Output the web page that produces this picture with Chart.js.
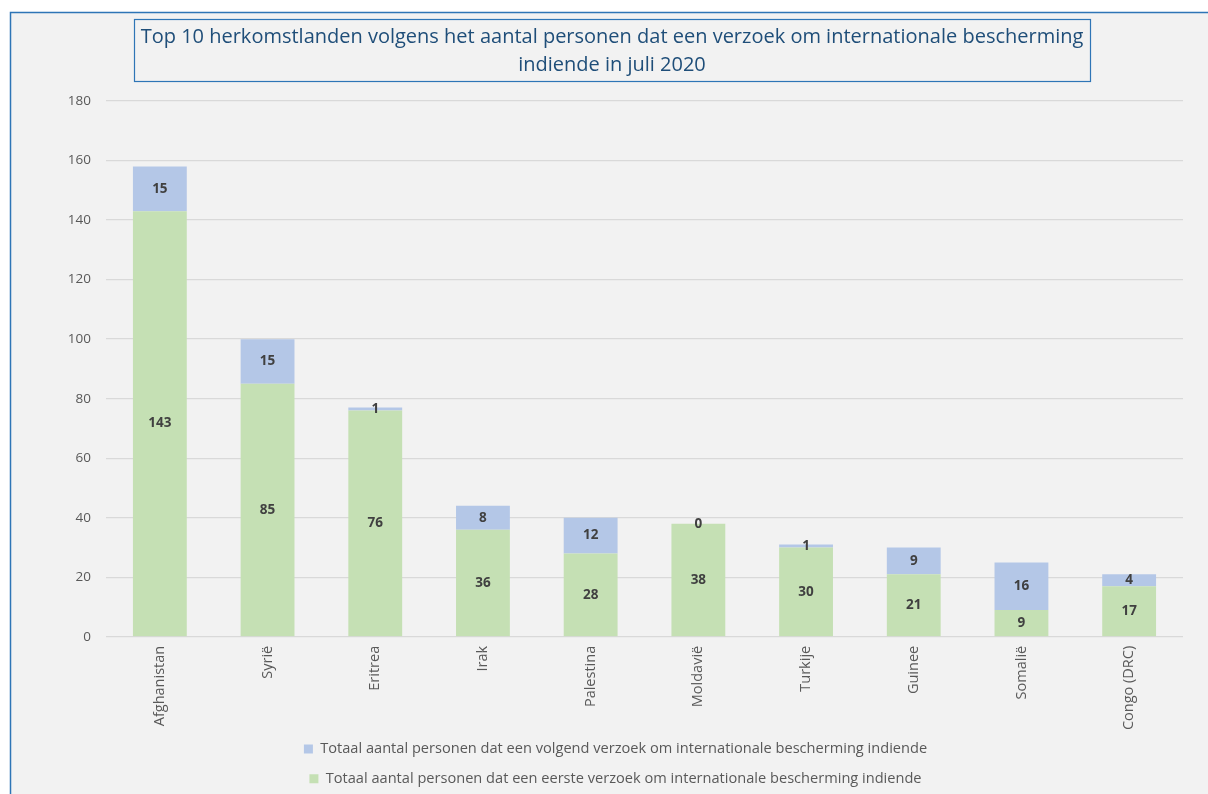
<!DOCTYPE html>
<html>
<head>
<meta charset="utf-8">
<script src="https://cdn.jsdelivr.net/npm/chart.js@4/dist/chart.umd.min.js"></script>
<style>
  html, body { margin: 0; padding: 0; background: #ffffff; }
  #wrap { position: absolute; left: 0; top: 0; width: 1208px; height: 794px; }
</style>
</head>
<body>
<div id="wrap"><canvas id="c" width="1208" height="794"></canvas></div>
<script>
const categories = ["Afghanistan", "Syrië", "Eritrea", "Irak", "Palestina", "Moldavië", "Turkije", "Guinee", "Somalië", "Congo (DRC)"];
const eersteVerzoek = [143, 85, 76, 36, 28, 38, 30, 21, 9, 17];
const volgendVerzoek = [15, 15, 1, 8, 12, 0, 1, 9, 16, 4];
const seriesNames = [
  "Totaal aantal personen dat een eerste verzoek om internationale bescherming indiende",
  "Totaal aantal personen dat een volgend verzoek om internationale bescherming indiende"
];
const titleLines = [
  "Top 10 herkomstlanden volgens het aantal personen dat een verzoek om internationale bescherming",
  "indiende in juli 2020"
];
const yTicks = { min: 0, max: 180, step: 20 };

const FONT = "'Open Sans', 'Noto Sans', sans-serif";

const frame = {
  id: 'frame',
  afterLayout(chart) {
    // let the rotated category labels extend below the fitted box without clipping
    chart.scales.x.bottom += 40;
  },
  beforeDraw(chart) {
    const ctx = chart.ctx;
    ctx.save();
    ctx.fillStyle = '#ffffff';
    ctx.fillRect(0, 0, chart.width, chart.height);
    ctx.fillStyle = '#f2f2f2';
    ctx.fillRect(10, 12, chart.width - 10, chart.height - 12);
    ctx.strokeStyle = '#2e75b6';
    ctx.lineWidth = 1.5;
    ctx.beginPath();
    ctx.moveTo(10.5, chart.height);
    ctx.lineTo(10.5, 12.5);
    ctx.lineTo(chart.width, 12.5);
    ctx.stroke();
    // title box
    ctx.lineWidth = 1.2;
    ctx.strokeRect(134.5, 19.5, 956, 62);
    ctx.fillStyle = '#1f4e79';
    ctx.font = "20px " + FONT;
    ctx.textAlign = 'center';
    ctx.textBaseline = 'middle';
    ctx.fillText(titleLines[0], 612, 37);
    ctx.fillText(titleLines[1], 612, 65);
    ctx.restore();
  }
};

const valueLabels = {
  id: 'valueLabels',
  afterDatasetsDraw(chart) {
    const ctx = chart.ctx;
    ctx.save();
    ctx.font = "bold 13.5px " + FONT;
    ctx.fillStyle = '#404040';
    ctx.textAlign = 'center';
    ctx.textBaseline = 'middle';
    chart.data.datasets.forEach((ds, di) => {
      const meta = chart.getDatasetMeta(di);
      meta.data.forEach((bar, i) => {
        const y = (bar.y + bar.base) / 2;
        ctx.fillText(String(ds.data[i]), bar.x, y);
      });
    });
    ctx.restore();
  }
};

new Chart(document.getElementById('c'), {
  type: 'bar',
  data: {
    labels: categories,
    datasets: [
      { label: seriesNames[0], data: eersteVerzoek, backgroundColor: '#c5e0b4', barPercentage: 1, categoryPercentage: 0.5 },
      { label: seriesNames[1], data: volgendVerzoek, backgroundColor: '#b4c7e7', barPercentage: 1, categoryPercentage: 0.5 }
    ]
  },
  options: {
    responsive: false,
    animation: false,
    devicePixelRatio: 1,
    layout: { padding: { top: 101, left: 48, right: 25, bottom: -2 } },
    plugins: {
      title: { display: false },
      tooltip: { enabled: false },
      legend: {
        position: 'bottom',
        reverse: true,
        labels: {
          boxWidth: 9, boxHeight: 9, padding: 15,
          color: '#595959',
          font: { family: FONT, size: 14.6 }
        }
      }
    },
    scales: {
      x: {
        stacked: true,
        grid: { display: false, drawTicks: false },
        border: { display: false },
        ticks: {
          minRotation: 90, maxRotation: 90, padding: 9,
          color: '#595959',
          font: { family: FONT, size: 14.5 }
        },
        afterFit(scale) { scale.height = 90; }
      },
      y: {
        stacked: true,
        min: yTicks.min, max: yTicks.max,
        grid: { color: '#d9d9d9', lineWidth: 1.3, drawTicks: false },
        border: { display: false },
        ticks: {
          stepSize: yTicks.step, padding: 15,
          color: '#595959',
          font: { family: FONT, size: 13.5 }
        },
        afterFit(scale) { scale.width = 58; }
      }
    }
  },
  plugins: [frame, valueLabels]
});
</script>
</body>
</html>
